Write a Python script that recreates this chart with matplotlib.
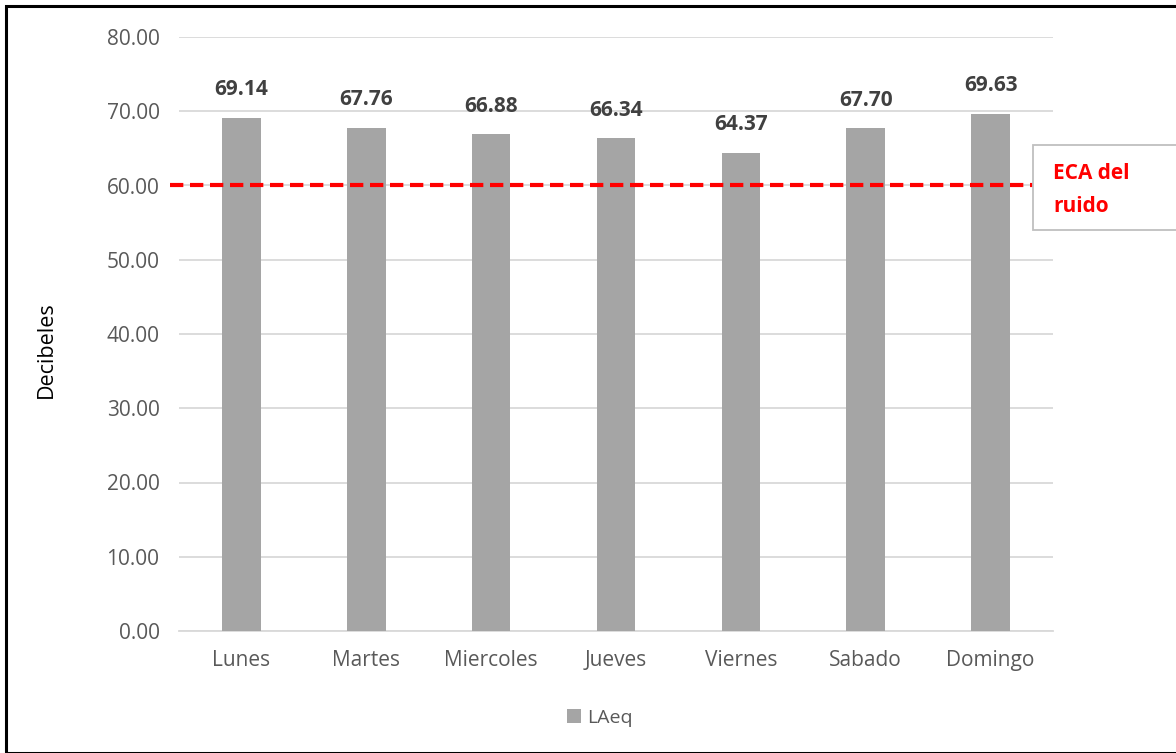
import matplotlib
matplotlib.use("Agg")
import matplotlib.pyplot as plt
from matplotlib.patches import Rectangle

days = ["Lunes", "Martes", "Miercoles", "Jueves", "Viernes", "Sabado", "Domingo"]
laeq = [69.14, 67.76, 66.88, 66.34, 64.37, 67.70, 69.63]
eca_limit = 60.0
yticks = [0, 10, 20, 30, 40, 50, 60, 70, 80]

plt.rcParams['font.family'] = ['Open Sans', 'DejaVu Sans']

fig = plt.figure(figsize=(11.76, 7.53), dpi=100)
ax = fig.add_axes([179/1176, 1-631/753, (1053-179)/1176, (631-37)/753])

x = list(range(len(days)))
bars = ax.bar(x, laeq, width=0.31, color="#A5A5A5", zorder=3, label="LAeq")
ax.set_xlim(-0.5, len(days)-0.5)
ax.set_ylim(0, 80)
ax.set_yticks(yticks)
ax.set_yticklabels([f"{v:.2f}" for v in yticks])
ax.set_xticks(x)
ax.set_xticklabels(days)
ax.tick_params(axis='both', length=0, labelsize=15, labelcolor="#595959")
ax.tick_params(axis='y', pad=14)
ax.tick_params(axis='x', pad=14)
ax.grid(axis='y', color="#D9D9D9", linewidth=1.3, zorder=0)
for s in ["top", "right", "left"]:
    ax.spines[s].set_visible(False)
ax.spines["bottom"].set_color("#D9D9D9")
ax.spines["bottom"].set_linewidth(1.3)

for xi, v in zip(x, laeq):
    ax.text(xi, v + 2.4, f"{v:.2f}", ha="center", va="bottom", fontsize=15,
            fontweight="bold", color="#404040")

ax.set_ylabel("Decibeles", fontsize=15.5, color="black")
ax.yaxis.set_label_coords((57-179)/874, (631-350)/594)

ax.plot([-0.57, 6.88], [eca_limit, eca_limit], color="#FF0000", linestyle=(0, (3.2, 1.6)),
        linewidth=3, zorder=4, clip_on=False)

# ECA label box
fig.patches.append(Rectangle((1033/1176, 1-230/753), 0.2, 85/753, transform=fig.transFigure,
                             facecolor="white", edgecolor="#BFBFBF", linewidth=1.3, zorder=5))
fig.text(1053/1176, 1-190/753, "ECA del\nruido", color="#FF0000", fontsize=15,
         fontweight="bold", ha="left", va="center", linespacing=1.75, zorder=6)

leg = fig.legend(handles=[bars], labels=["LAeq"], loc="center", bbox_to_anchor=(600/1176, 1-718/753),
                 frameon=False, fontsize=14, handlelength=0.7, handleheight=0.7, handletextpad=0.3)
for t in leg.get_texts():
    t.set_color("#595959")

# figure border
fig.patches.append(Rectangle((6/1176, 0), 1.0, 1-6/753, transform=fig.transFigure,
                             facecolor="none", edgecolor="black", linewidth=2.2, zorder=10))

fig.savefig("out.png", dpi=100)
